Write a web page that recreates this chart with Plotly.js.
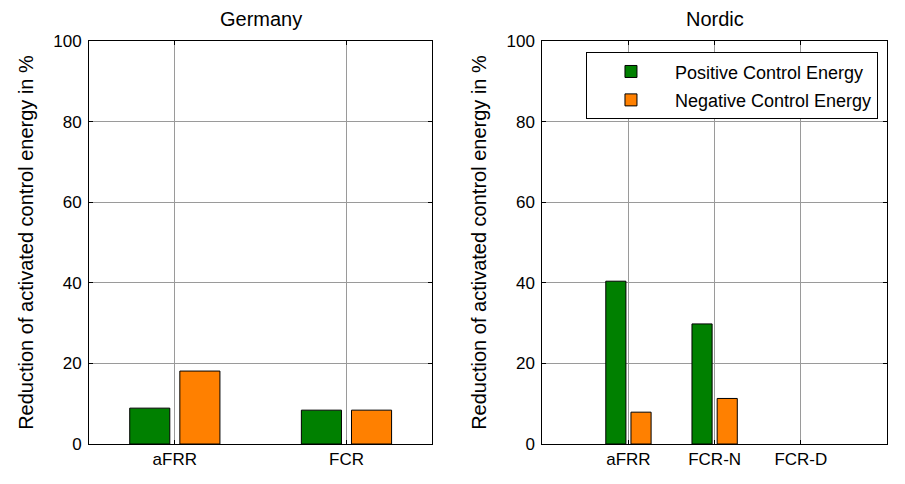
<!DOCTYPE html>
<html>
<head>
<meta charset="utf-8">
<script src="https://cdn.plot.ly/plotly-3.0.1.min.js"></script>
<style>html,body{margin:0;padding:0;background:#fff;}#chart{width:905px;height:484px;}</style>
</head>
<body>
<div id="chart"></div>
<script>
// ---- data ----
const germanyCategories = ['aFRR', 'FCR'];
const germanyPositive = [8.9, 8.4];
const germanyNegative = [18.1, 8.4];

const nordicCategories = ['aFRR', 'FCR-N', 'FCR-D'];
const nordicPositive = [40.4, 29.8, 0];
const nordicNegative = [7.9, 11.3, 0];

const seriesNames = ['Positive Control Energy', 'Negative Control Energy'];
const panelTitles = ['Germany', 'Nordic'];
const yTitle = 'Reduction of activated control energy in %';
const yTicks = [0, 20, 40, 60, 80, 100];

// ---- styling ----
const FONT = 'Liberation Sans, Arial, Helvetica, sans-serif';
const GREEN = '#008000';
const ORANGE = '#FF8000';
const positions = arr => arr.map((_, i) => i + 1);
// zero-height bars show no outline in the reference
const outline = vals => ({color: '#000000', width: vals.map(v => (v === 0 ? 0 : 1))});

const traces = [
  {type: 'bar', name: seriesNames[0], x: positions(germanyCategories), y: germanyPositive,
   xaxis: 'x', yaxis: 'y', marker: {color: GREEN, line: outline(germanyPositive)}, legendgroup: 'pos'},
  {type: 'bar', name: seriesNames[1], x: positions(germanyCategories), y: germanyNegative,
   xaxis: 'x', yaxis: 'y', marker: {color: ORANGE, line: outline(germanyNegative)}, legendgroup: 'neg'},
  {type: 'bar', name: seriesNames[0], x: positions(nordicCategories), y: nordicPositive,
   xaxis: 'x2', yaxis: 'y2', marker: {color: GREEN, line: outline(nordicPositive)}, legendgroup: 'pos', showlegend: false},
  {type: 'bar', name: seriesNames[1], x: positions(nordicCategories), y: nordicNegative,
   xaxis: 'x2', yaxis: 'y2', marker: {color: ORANGE, line: outline(nordicNegative)}, legendgroup: 'neg', showlegend: false}
];

const axisCommon = {
  showline: true, linecolor: '#000', linewidth: 1, mirror: 'ticks',
  ticks: 'inside', ticklen: 4, tickcolor: '#000', tickwidth: 1,
  showgrid: true, gridcolor: '#9a9a9a', gridwidth: 1, zeroline: false,
  tickfont: {family: FONT, size: 17, color: '#000'}
};

const yAxisBase = Object.assign({}, axisCommon, {
  range: [0, 100], tickvals: yTicks, ticktext: yTicks.map(String),
  ticklabelstandoff: 3,
  title: {text: yTitle, font: {family: FONT, size: 20, color: '#000'}, standoff: 14}
});

const layout = {
  width: 905, height: 484,
  margin: {l: 89, r: 18, t: 40.5, b: 40},
  paper_bgcolor: '#fff', plot_bgcolor: '#fff',
  barmode: 'group', bargap: 0.416, bargroupgap: 0.2,
  font: {family: FONT, color: '#000'},
  showlegend: true,
  legend: {
    x: 0.9887, xanchor: 'right', y: 0.972, yanchor: 'top',
    bgcolor: '#fff', bordercolor: '#000', borderwidth: 1,
    font: {family: FONT, size: 18, color: '#000'},
    itemwidth: 78, tracegroupgap: 2
  },
  xaxis: Object.assign({}, axisCommon, {
    domain: [0, 0.4302], range: [0.5, 2.5], anchor: 'y',
    tickvals: positions(germanyCategories), ticktext: germanyCategories
  }),
  yaxis: Object.assign({}, yAxisBase, {anchor: 'x', domain: [0, 1]}),
  xaxis2: Object.assign({}, axisCommon, {
    domain: [0.568, 1], range: [0, 4], anchor: 'y2',
    tickvals: positions(nordicCategories), ticktext: nordicCategories
  }),
  yaxis2: Object.assign({}, yAxisBase, {anchor: 'x2', domain: [0, 1]}),
  annotations: [
    {text: panelTitles[0], xref: 'x domain', yref: 'paper', x: 0.5, y: 1.055,
     xanchor: 'center', yanchor: 'middle', showarrow: false,
     font: {family: FONT, size: 20, color: '#000'}},
    {text: panelTitles[1], xref: 'x2 domain', yref: 'paper', x: 0.5, y: 1.055,
     xanchor: 'center', yanchor: 'middle', showarrow: false,
     font: {family: FONT, size: 20, color: '#000'}}
  ]
};

Plotly.newPlot('chart', traces, layout, {displayModeBar: false, staticPlot: true});
</script>
</body>
</html>
